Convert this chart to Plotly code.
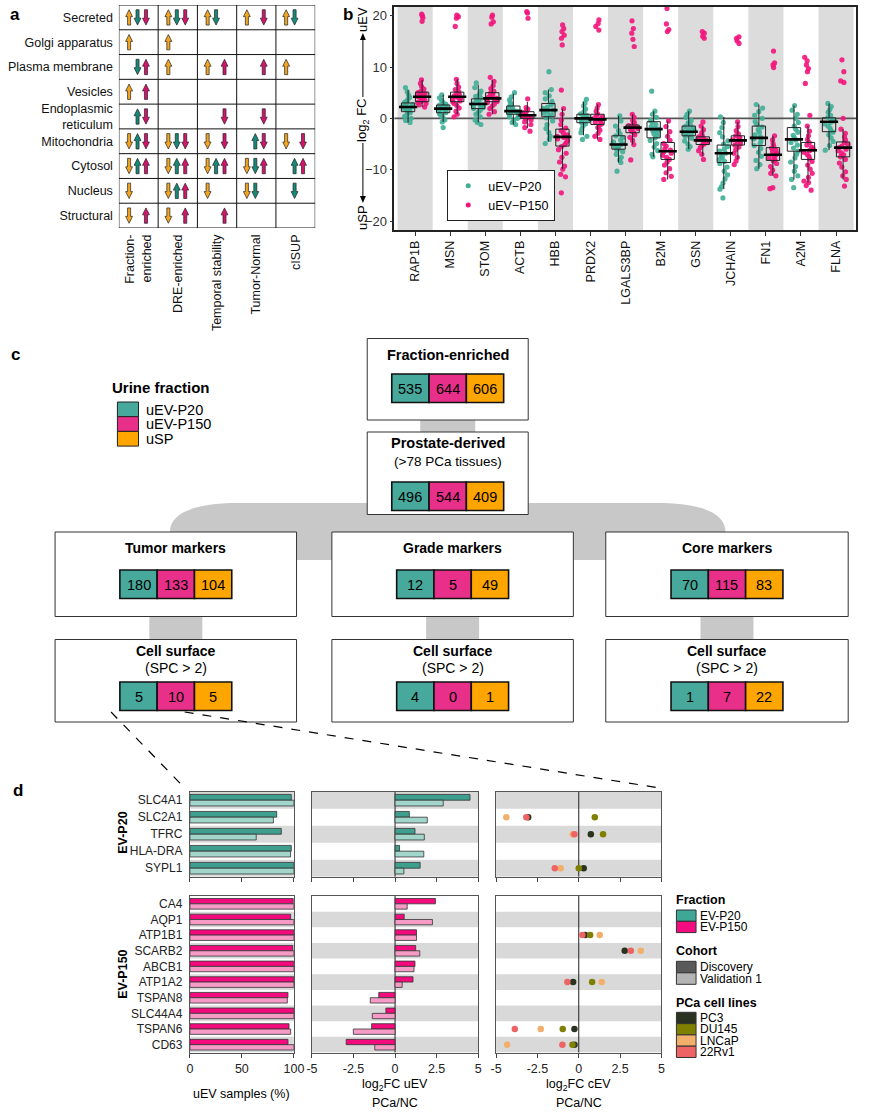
import plotly.graph_objects as go

W, H = 869, 1114
FONT = "Liberation Sans, Arial, sans-serif"
NARROW = "Liberation Sans Narrow, Liberation Sans, Arial, sans-serif"


def X(p):
    return p / W


def Y(p):
    return 1 - p / H


# ---------------- colours ----------------
TEAL_C, PINK_C, ORANGE_C = "#46A99B", "#E8308A", "#FFA500"
ARROW_COLS = ["#F2A520", "#168A78", "#D3146C"]  # uSP, uEV-P20, uEV-P150
TEAL_PT, PINK_PT = "#3FAE97", "#F2147C"
P20_DARK, P20_LIGHT = "#3E9F8E", "#A2D6CB"
P150_DARK, P150_LIGHT = "#F30A7C", "#F59BC6"
CELL_COLS = {"PC3": "#29331F", "DU145": "#7F8000", "LNCaP": "#F2AE6B", "22Rv1": "#EE6464"}

# ================= panel a data =================
loc_rows = ["Secreted", "Golgi apparatus", "Plasma membrane", "Vesicles",
            "Endoplasmic<br>reticulum", "Mitochondria", "Cytosol", "Nucleus", "Structural"]
loc_cols = ["Fraction-<br>enriched", "DRE-enriched", "Temporal stability", "Tumor-Normal", "cISUP"]
# 1 = up, -1 = down, 0 = none ; rows x columns
arrows_usp = [[1, 1, 1, 1, 1], [1, 1, 0, 0, 0], [0, 1, 1, 0, 1], [1, 0, 0, 0, 0], [0, 0, 0, 0, 0],
              [-1, -1, -1, 0, -1], [-1, -1, -1, -1, 0], [-1, -1, -1, -1, 0], [-1, -1, 0, 0, 0]]
arrows_p20 = [[-1, -1, -1, 0, -1], [0, 0, 0, 0, 0], [-1, 0, 0, 0, 0], [0, 0, 0, 0, 0], [1, 0, 0, 0, 0],
              [1, -1, 0, 1, 0], [1, 1, 1, -1, 1], [0, 1, 0, -1, -1], [0, 0, 0, 0, 0]]
arrows_p150 = [[-1, -1, 0, -1, 0], [0, 0, 0, 0, 0], [1, 0, 1, 1, 0], [1, 0, 0, 0, 0], [-1, 0, -1, -1, 0],
               [-1, -1, -1, -1, -1], [1, 1, 1, 1, 1], [0, 1, 0, 0, 0], [1, 1, 1, 0, 0]]

# ================= panel b data =================
genes_b = ["RAP1B", "MSN", "STOM", "ACTB", "HBB", "PRDX2", "LGALS3BP", "B2M", "GSN", "JCHAIN", "FN1", "A2M", "FLNA"]
p20_pts = [
    [6.0, 5.2, 4.6, 4.1, 3.7, 3.4, 3.1, 2.9, 2.7, 2.5, 2.3, 2.2, 2.1, 2.0, 1.9, 1.7, 1.5, 1.3, 1.1, 0.8, 0.4, 0.0, -0.4, -0.8],
    [4.6, 4.0, 3.5, 3.1, 2.8, 2.6, 2.4, 2.2, 2.0, 1.9, 1.8, 1.7, 1.5, 1.3, 1.1, 0.9, 0.6, 0.2, -0.3, -0.7, -1.8],
    [6.9, 6.0, 5.3, 4.7, 4.3, 3.9, 3.6, 3.3, 3.0, 2.9, 2.7, 2.5, 2.3, 2.1, 1.9, 1.6, 1.2, 0.8, 0.3, -0.3, -0.8, -1.2],
    [5.0, 4.2, 3.6, 3.1, 2.7, 2.4, 2.1, 1.8, 1.6, 1.4, 1.3, 1.1, 0.9, 0.8, 0.6, 0.3, 0.0, -0.4, -0.8, -1.2],
    [9.1, 5.6, 5.0, 4.4, 3.8, 3.3, 2.9, 2.6, 2.2, 1.9, 1.6, 1.3, 1.0, 0.7, 0.4, 0.1, -0.5, -1.2, -2.0, -2.8, -3.5, -4.1, -4.9],
    [3.7, 3.0, 2.4, 1.8, 1.3, 0.9, 0.6, 0.3, 0.1, 0.0, -0.2, -0.4, -0.6, -0.8, -1.1, -1.5, -2.1, -2.8, -3.5, -4.1],
    [0.5, -0.5, -1.5, -2.4, -3.0, -3.4, -3.8, -4.2, -4.6, -4.9, -5.1, -5.3, -5.6, -5.9, -6.1, -6.5, -7.0, -7.6, -8.1, -8.6, -10.3],
    [5.3, 1.4, 0.8, 0.2, -0.4, -0.8, -1.2, -1.6, -1.9, -2.1, -2.4, -2.7, -3.0, -3.4, -3.8, -4.3, -4.9, -5.6, -6.3, -7.0, -7.5],
    [1.4, 0.8, 0.2, -0.4, -0.9, -1.3, -1.6, -1.9, -2.2, -2.4, -2.6, -2.8, -3.0, -3.2, -3.5, -3.9, -4.4, -5.0, -5.5, -6.0],
    [0.3, -0.8, -1.8, -2.8, -3.6, -4.4, -5.0, -5.5, -6.0, -6.4, -6.8, -7.2, -7.6, -8.0, -8.4, -8.8, -9.5, -10.3, -11.0, -11.8, -12.6, -13.3, -13.8, -15.5],
    [2.7, 2.0, 1.3, 0.6, 0.0, -0.6, -1.2, -1.7, -2.2, -2.7, -3.2, -3.6, -4.0, -4.4, -4.9, -5.3, -5.9, -6.6, -7.4, -8.2, -9.0, -9.8],
    [2.5, 1.6, 0.8, 0.0, -0.8, -1.5, -2.1, -2.7, -3.3, -3.8, -4.2, -4.7, -5.2, -5.8, -6.4, -7.0, -7.7, -8.5, -9.4, -10.3, -11.2, -11.9, -13.5],
    [2.9, 2.3, 1.7, 1.2, 0.6, 0.2, -0.2, -0.5, -0.8, -1.1, -1.5, -1.9, -2.3, -2.7, -3.2, -3.8, -4.5, -5.3, -6.2],
]
p150_pts = [
    [7.5, 6.8, 6.2, 5.7, 5.3, 5.0, 4.8, 4.6, 4.4, 4.2, 4.1, 3.9, 3.7, 3.5, 3.3, 3.1, 2.9, 2.6, 2.2, 18.9, 19.6, 20.0, 20.3],
    [7.6, 6.8, 6.1, 5.6, 5.2, 4.9, 4.6, 4.4, 4.2, 4.0, 3.8, 3.6, 3.4, 3.2, 2.9, 2.5, 2.0, 1.4, 0.8, 0.3, 17.9, 19.5, 19.8, 20.1],
    [8.0, 7.2, 6.4, 5.8, 5.3, 4.9, 4.6, 4.3, 4.1, 3.9, 3.7, 3.5, 3.3, 3.1, 2.8, 2.4, 1.9, 1.3, 0.8, 18.4, 18.8, 19.7, 20.1],
    [3.8, 2.1, 1.8, 1.5, 1.3, 1.1, 0.9, 0.8, 0.6, 0.5, 0.4, 0.2, 0.1, 0.0, -0.3, -0.7, -1.2, -1.8, -2.5, 19.5, 20.5, 20.8],
    [5.5, 1.9, 0.8, -0.3, -1.2, -1.9, -2.4, -2.8, -3.2, -3.5, -3.7, -4.0, -4.3, -4.7, -5.1, -5.5, -6.1, -6.8, -7.6, -8.5, -9.3, -9.9,
     -10.9, -11.4, -14.5, 14.3, 15.6, 16.2, 16.9, 17.5, 18.2],
    [2.7, 2.0, 1.4, 0.9, 0.6, 0.3, 0.1, -0.1, -0.3, -0.5, -0.8, -1.1, -1.4, -1.8, -2.3, -2.9, -3.5, -4.1, 17.2, 17.9, 18.5, 19.2],
    [0.8, 0.2, -0.4, -0.8, -1.1, -1.4, -1.6, -1.8, -2.0, -2.2, -2.5, -2.8, -3.2, -3.7, -4.3, -5.1, -8.1, 14.0, 15.4, 16.6, 17.5, 19.0],
    [-0.5, -1.6, -2.6, -3.5, -4.3, -4.9, -5.4, -5.9, -6.2, -6.5, -6.8, -7.2, -7.6, -8.0, -8.5, -9.1, -9.8, -10.6, -11.3, -11.9,
     16.9, 17.3, 18.4, 21.4],
    [-0.7, -1.5, -2.2, -2.8, -3.3, -3.6, -3.9, -4.1, -4.3, -4.5, -4.7, -5.0, -5.3, -5.7, -6.3, -7.0, -8.0, 15.6, 16.0, 16.6, 16.9],
    [-0.7, -1.6, -2.4, -3.0, -3.4, -3.7, -4.0, -4.2, -4.4, -4.6, -4.9, -5.2, -5.6, -6.1, -6.8, -7.6, -8.3, -9.0, 14.6, 15.1, 15.6, 15.9],
    [-3.4, -4.2, -4.9, -5.4, -5.8, -6.2, -6.5, -6.8, -7.1, -7.4, -7.7, -8.0, -8.3, -8.8, -9.4, -10.1, -10.7, -11.2, -13.5, -13.7,
     9.9, 10.4, 10.8, 13.1],
    [0.6, -1.5, -2.5, -3.4, -4.1, -4.7, -5.2, -5.6, -6.0, -6.3, -6.6, -7.0, -7.4, -7.9, -8.4, -9.1, -9.9, -10.7, -11.5, -12.2,
     -12.5, -13.1, -14.0, 6.8, 9.1, 9.7, 10.4, 11.2, 11.9],
    [0.0, -2.1, -2.9, -3.6, -4.2, -4.7, -5.1, -5.4, -5.7, -6.0, -6.3, -6.7, -7.1, -7.5, -8.0, -8.7, -9.5, -10.4, -11.2, -11.9,
     -13.2, 7.0, 7.3, 9.1, 11.4],
]
p20_q1 = [1.3, 1.1, 1.9, 0.8, 0.3, -0.85, -6.0, -3.8, -3.4, -8.6, -5.3, -6.4, -2.6]
p20_med = [2.2, 1.9, 2.8, 1.4, 1.6, 0.0, -5.1, -2.1, -2.6, -6.8, -3.8, -4.1, -0.65]
p20_q3 = [3.0, 2.6, 3.8, 2.4, 2.9, 0.8, -3.4, -0.65, -1.5, -5.2, -1.5, -1.8, 0.1]
p20_lo = [-0.8, -0.7, -0.8, -1.2, -4.5, -3.3, -8.6, -7.5, -6.0, -13.8, -9.8, -11.9, -6.2]
p20_hi = [5.5, 4.6, 6.5, 4.8, 5.6, 3.2, 0.5, 1.4, 1.4, 0.3, 2.7, 2.5, 2.9]
p150_q1 = [3.25, 3.25, 3.25, 0.0, -5.4, -1.2, -2.8, -8.0, -5.1, -5.2, -8.2, -8.0, -7.5]
p150_med = [4.2, 4.2, 3.9, 0.6, -3.6, -0.2, -1.8, -6.4, -4.3, -4.3, -7.1, -6.2, -5.7]
p150_q3 = [5.1, 5.1, 5.0, 1.3, -2.1, 0.8, -1.3, -4.7, -3.6, -3.4, -5.7, -4.7, -4.6]
p150_lo = [2.2, 0.8, 0.8, -1.9, -9.9, -4.1, -5.1, -11.9, -7.3, -8.0, -11.2, -12.5, -11.9]
p150_hi = [7.5, 7.6, 7.5, 3.2, 1.9, 2.7, 0.8, -0.5, -1.5, -0.7, -3.4, -1.5, -2.1]

# ================= panel c data =================
fraction_names = ["uEV-P20", "uEV-P150", "uSP"]
fe_counts = [535, 644, 606]
prostate_counts = [496, 544, 409]
tumor_counts = [180, 133, 104]
grade_counts = [12, 5, 49]
core_counts = [70, 115, 83]
tumor_cs_counts = [5, 10, 5]
grade_cs_counts = [4, 0, 1]
core_cs_counts = [1, 7, 22]

# ================= panel d data =================
genes_p20 = ["SLC4A1", "SLC2A1", "TFRC", "HLA-DRA", "SYPL1"]
genes_p150 = ["CA4", "AQP1", "ATP1B1", "SCARB2", "ABCB1", "ATP1A2", "TSPAN8", "SLC44A4", "TSPAN6", "CD63"]
p20_pct_disc = [97.5, 83.5, 87.9, 97.5, 100]
p20_pct_val = [100, 80.3, 63.8, 96.8, 100]
p150_pct_disc = [99.4, 96.9, 100, 99, 100, 100, 94.3, 100, 95.3, 94.3]
p150_pct_val = [100, 100, 100, 100, 100, 100, 93.7, 100, 96.9, 100]
p20_fc_disc = [4.51, 0.86, 1.2, 0.27, 1.51]
p20_fc_val = [2.9, 1.94, 1.76, 1.73, 0.53]
p150_fc_disc = [2.43, 0.55, 1.29, 1.24, 1.2, 1.08, -0.98, -0.55, -1.41, -2.94]
p150_fc_val = [0.73, 2.25, 1.29, 1.49, 1.14, 0.43, -1.49, -1.37, -2.51, -1.22]
cev_p20 = {
    "PC3": [None, -3.06, 0.73, None, 0.3],
    "DU145": [None, 0.97, 1.47, None, 0.0],
    "LNCaP": [None, -4.38, -0.36, None, -1.09],
    "22Rv1": [None, -3.17, -0.26, None, -1.45],
}
cev_p150 = {
    "PC3": [None, None, 0.38, 2.78, None, -0.34, None, None, -0.26, -0.26],
    "DU145": [None, None, 0.69, None, None, 0.81, None, None, -0.97, -0.38],
    "LNCaP": [None, None, 1.27, 3.75, None, 1.39, None, None, -2.3, -4.33],
    "22Rv1": [None, None, 0.22, 3.15, None, -0.69, None, None, -3.87, -0.99],
}
fc_ticks = [-5, -2.5, 0, 2.5, 5]
fc_ticktext = ["-5", "-2.5", "0", "2.5", "5"]
pct_ticks = [0, 50, 100]

shapes, annotations, traces = [], [], []


def text(x, y, s, size=12.5, bold=False, anchor="center", family=FONT, angle=0, color="black"):
    if bold:
        s = f"<b>{s}</b>"
    annotations.append(dict(x=X(x), y=Y(y), xref="paper", yref="paper", text=s, showarrow=False,
                            xanchor=anchor, yanchor="middle", textangle=angle, borderpad=0,
                            font=dict(size=size, family=family, color=color)))


def rect(x0, y0, x1, y1, fill, line="black", lw=1.0):
    shapes.append(dict(type="rect", xref="paper", yref="paper", x0=X(x0), x1=X(x1), y0=Y(y1), y1=Y(y0),
                       fillcolor=fill, line=dict(color=line, width=lw)))


def vline_arrow(x, y_tail, y_tip):
    d = 1 if y_tip > y_tail else -1
    shapes.append(dict(type="line", xref="paper", yref="paper", x0=X(x), x1=X(x), y0=Y(y_tail),
                       y1=Y(y_tip - d * 4), line=dict(color="black", width=1)))
    shapes.append(dict(type="path", xref="paper", yref="paper", fillcolor="black", line=dict(width=0),
                       path=f"M {X(x)},{Y(y_tip)} L {X(x - 3)},{Y(y_tip - d * 7)} L {X(x + 3)},{Y(y_tip - d * 7)} Z"))


# ---------------- panel labels ----------------
text(9, 14, "a", size=17, bold=True)
text(348, 14, "b", size=17, bold=True)
text(10, 354, "c", size=17, bold=True)
text(12, 790, "d", size=17, bold=True)

# ================= panel a =================
traces.append(go.Scatter(x=[0.5], y=[0.5], xaxis="x", yaxis="y", mode="markers",
                         marker=dict(opacity=0), showlegend=False, hoverinfo="skip"))
for k in range(len(loc_cols) + 1):
    shapes.append(dict(type="line", xref="x", yref="y", x0=k, x1=k, y0=0, y1=len(loc_rows),
                       line=dict(color="#111", width=1)))
for r in range(len(loc_rows) + 1):
    shapes.append(dict(type="line", xref="x", yref="y", x0=0, x1=len(loc_cols), y0=r, y1=r,
                       line=dict(color="#111", width=1)))

ARROW_X = [0.26, 0.475, 0.69]
AL, AHW, ASW, AHH = 0.62, 0.175, 0.078, 0.28


def arrow_path(xc, yc, d):
    tip = yc - d * AL / 2
    base = yc + d * AL / 2
    neck = tip + d * AHH
    pts = [(xc, tip), (xc + AHW / 2, neck), (xc + ASW / 2, neck), (xc + ASW / 2, base),
           (xc - ASW / 2, base), (xc - ASW / 2, neck), (xc - AHW / 2, neck)]
    return "M " + " L ".join(f"{a:.4f},{b:.4f}" for a, b in pts) + " Z"


for k, grid in enumerate([arrows_usp, arrows_p20, arrows_p150]):
    for r, row in enumerate(grid):
        for c, d in enumerate(row):
            if d:
                shapes.append(dict(type="path", xref="x", yref="y", path=arrow_path(c + ARROW_X[k], r + 0.5, d),
                                   fillcolor=ARROW_COLS[k], line=dict(color="#222", width=0.7)))

# ================= panel b =================
nb = len(genes_b)
pos20 = [i - 0.2 for i in range(nb)]
pos150 = [i + 0.2 for i in range(nb)]
for i in range(0, nb, 2):
    shapes.append(dict(type="rect", xref="x2", yref="y2 domain", x0=i - 0.5, x1=i + 0.5, y0=0, y1=1,
                       fillcolor="#DCDCDC", line=dict(width=0), layer="below"))
shapes.append(dict(type="line", xref="x2 domain", yref="y2", x0=0, x1=1, y0=0, y1=0,
                   line=dict(color="#555", width=1.6), layer="below"))

for pos, pts, col in [(pos20, p20_pts, TEAL_PT), (pos150, p150_pts, PINK_PT)]:
    xs, ys = [], []
    for p, vals in zip(pos, pts):
        xs += [p] * len(vals)
        ys += vals
    traces.append(go.Box(x=xs, y=ys, xaxis="x2", yaxis="y2", boxpoints="all", jitter=0.85, pointpos=0,
                         width=0.38, fillcolor="rgba(0,0,0,0)", line=dict(width=0, color="rgba(0,0,0,0)"),
                         marker=dict(color=col, size=5.2, opacity=0.9), showlegend=False, hoveron="points"))
for pos, q1, med, q3, lo, hi in [(pos20, p20_q1, p20_med, p20_q3, p20_lo, p20_hi),
                                (pos150, p150_q1, p150_med, p150_q3, p150_lo, p150_hi)]:
    traces.append(go.Box(x=pos, q1=q1, median=med, q3=q3, lowerfence=lo, upperfence=hi, xaxis="x2", yaxis="y2",
                         width=0.38, whiskerwidth=0, boxpoints=False, fillcolor="rgba(0,0,0,0)",
                         line=dict(color="#222", width=1), showlegend=False))
    traces.append(go.Scatter(x=pos, y=med, xaxis="x2", yaxis="y2", mode="markers", showlegend=False,
                             marker=dict(symbol="line-ew", size=13, line=dict(width=2.6, color="black")),
                             hoverinfo="skip"))
traces.append(go.Scatter(x=[None], y=[None], xaxis="x2", yaxis="y2", mode="markers", name="uEV\u2212P20",
                         marker=dict(color=TEAL_PT, size=5)))
traces.append(go.Scatter(x=[None], y=[None], xaxis="x2", yaxis="y2", mode="markers", name="uEV\u2212P150",
                         marker=dict(color=PINK_PT, size=5)))

# y-axis title of b
text(363.6, 19, "uEV", angle=-90, size=13)
text(363.6, 120, "log<sub>2</sub> FC", angle=-90, size=13)
text(363.6, 217, "uSP", angle=-90, size=13)
vline_arrow(363.6, 97, 33)
vline_arrow(363.6, 143, 203)

# ================= panel c =================
shapes.append(dict(type="path", xref="paper", yref="paper", fillcolor="#C8C8C8", line=dict(width=0),
                   path=(f"M {X(167)},{Y(560)} L {X(167)},{Y(532)} C {X(167)},{Y(512)} {X(195)},{Y(503)} {X(235)},{Y(503)} "
                         f"L {X(665)},{Y(503)} C {X(705)},{Y(503)} {X(733)},{Y(512)} {X(733)},{Y(532)} L {X(733)},{Y(560)} Z")))
rect(422, 418, 478, 434, "#C8C8C8", line="#C8C8C8", lw=0)
for cx in [173, 455, 734.5]:
    rect(cx - 27, 615, cx + 27, 641, "#C8C8C8", line="#C8C8C8", lw=0)

CELL_W, CELL_H = 38, 28.5
CELL_COLS3 = [TEAL_C, PINK_C, ORANGE_C]


def cells(cx, ytop, counts, family=FONT, size=14):
    x0 = cx - 1.5 * CELL_W
    for j, v in enumerate(counts):
        rect(x0 + j * CELL_W, ytop, x0 + (j + 1) * CELL_W, ytop + CELL_H, CELL_COLS3[j], line="#111", lw=1.6)
        text(x0 + (j + 0.5) * CELL_W, ytop + CELL_H / 2 + 0.5, str(v), size=size, family=family)


rect(368, 338.5, 532, 420, "white", line="#333", lw=1)
text(450, 354.5, "Fraction-enriched", size=14.5, bold=True)
cells(450, 374, fe_counts, size=14.5)
rect(368, 432, 532, 514.5, "white", line="#333", lw=1)
text(450, 443, "Prostate-derived", size=14.5, bold=True)
text(450, 461, "(&gt;78 PCa tissues)", size=13.5)
cells(450, 482, prostate_counts, size=14.5)

for (bx0, bx1, title, cnt, cs_cnt) in [(50, 296, "Tumor markers", tumor_counts, tumor_cs_counts),
                                       (332, 578, "Grade markers", grade_counts, grade_cs_counts),
                                       (611, 858, "Core markers", core_counts, core_cs_counts)]:
    cx = (bx0 + bx1) / 2
    rect(bx0, 532, bx1, 616.5, "white", line="#333", lw=1)
    text(cx, 548, title, size=14, bold=True, family=NARROW)
    cells(cx, 570, cnt, family=NARROW, size=14.5)
    rect(bx0, 639.5, bx1, 722, "white", line="#333", lw=1)
    text(cx, 650.5, "Cell surface", size=14, bold=True, family=NARROW)
    text(cx, 668, "(SPC &gt; 2)", size=14, family=NARROW)
    cells(cx, 682, cs_cnt, family=NARROW, size=14.5)

# Urine fraction legend
text(157.5, 387, "Urine fraction", size=15, bold=True)
for j, name in enumerate(fraction_names):
    rect(113.5, 402 + j * 14.7, 135, 402 + (j + 1) * 14.7, CELL_COLS3[j], line="#222", lw=1)
    text(142, 409.5 + j * 14.7, name, size=14.5, anchor="left")

# dashed zoom lines
shapes.append(dict(type="line", xref="paper", yref="paper", x0=X(107), y0=Y(712), x1=X(183), y1=Y(789),
                   line=dict(color="black", width=1.2, dash="dash")))
shapes.append(dict(type="line", xref="paper", yref="paper", x0=X(182), y0=Y(712), x1=X(666), y1=Y(788),
                   line=dict(color="black", width=1.2, dash="dash")))

# ================= panel d =================
d_x = {"left": (187.3, 293.3), "mid": (311.7, 481.0), "right": (499.3, 667.7)}
d_y = {"up": (791.7, 876.7), "low": (896.0, 1052.5)}
axis_ids = {("left", "up"): 3, ("left", "low"): 4, ("mid", "up"): 5, ("mid", "low"): 6,
            ("right", "up"): 7, ("right", "low"): 8}
block_info = {
    "up": dict(genes=genes_p20, gray=[0, 2, 4], dark=P20_DARK, light=P20_LIGHT,
               pct=(p20_pct_disc, p20_pct_val), fc=(p20_fc_disc, p20_fc_val), cev=cev_p20),
    "low": dict(genes=genes_p150, gray=[1, 3, 5, 7, 9], dark=P150_DARK, light=P150_LIGHT,
                pct=(p150_pct_disc, p150_pct_val), fc=(p150_fc_disc, p150_fc_val), cev=cev_p150),
}
layout_axes = {}
for (col, blk), n in axis_ids.items():
    info = block_info[blk]
    ng = len(info["genes"])
    xa, ya = f"x{n}", f"y{n}"
    idx = list(range(ng))
    for r in info["gray"]:
        shapes.append(dict(type="rect", xref=f"{xa} domain", yref=ya, x0=0, x1=1, y0=r - 0.5, y1=r + 0.5,
                           fillcolor="#D9D9D9", line=dict(width=0), layer="below"))
    if col in ("mid", "right"):
        shapes.append(dict(type="line", xref=xa, yref=f"{ya} domain", x0=0, x1=0, y0=0, y1=1,
                           line=dict(color="#222", width=1), layer="below"))
    if col in ("left", "mid"):
        vals = info["pct"] if col == "left" else info["fc"]
        for v, colr, off in [(vals[0], info["dark"], -0.34), (vals[1], info["light"], 0.0)]:
            traces.append(go.Bar(x=v, y=idx, orientation="h", xaxis=xa, yaxis=ya, width=0.34, offset=off,
                                 marker=dict(color=colr, line=dict(color="#333", width=0.8)), showlegend=False))
    else:
        for cl in ["PC3", "DU145", "LNCaP", "22Rv1"]:
            traces.append(go.Scatter(x=info["cev"][cl], y=idx, xaxis=xa, yaxis=ya, mode="markers",
                                     marker=dict(color=CELL_COLS[cl], size=6.5), showlegend=False))
    x0p, x1p = d_x[col]
    y0p, y1p = d_y[blk]
    if col == "left":
        xr, tv, tt = [0, 100], pct_ticks, [str(t) for t in pct_ticks]
    else:
        xr, tv, tt = [-5, 5], fc_ticks, fc_ticktext
    layout_axes[f"xaxis{n}"] = dict(domain=[X(x0p), X(x1p)], anchor=ya, range=xr, tickvals=tv, ticktext=tt,
                                    showticklabels=(blk == "low"), ticks="outside", ticklen=4, tickcolor="#444",
                                    showline=True, mirror=True, linecolor="#555", linewidth=1, showgrid=False,
                                    zeroline=False, tickfont=dict(size=12.5, family=FONT, color="#222"),
                                    fixedrange=True)
    layout_axes[f"yaxis{n}"] = dict(domain=[Y(y1p), Y(y0p)], anchor=xa, range=[ng - 0.5, -0.5],
                                    tickvals=idx, ticktext=info["genes"], showticklabels=(col == "left"),
                                    ticks="", showline=True, mirror=True, linecolor="#555", linewidth=1,
                                    showgrid=False, zeroline=False, ticklabelstandoff=4,
                                    tickfont=dict(size=12, family=FONT, color="#222"), fixedrange=True)

text(119, 833, "EV-P20", size=12.5, bold=True, angle=-90)
text(119, 974, "EV-P150", size=12.5, bold=True, angle=-90)
text(240, 1093.5, "uEV samples (%)", size=12.5)
text(396, 1085, "log<sub>2</sub>FC uEV", size=12.5)
text(396, 1103, "PCa/NC", size=12.5)
text(583.5, 1085, "log<sub>2</sub>FC cEV", size=12.5)
text(583.5, 1103, "PCa/NC", size=12.5)

# panel d legend
LEG_F = 12
text(682, 900, "Fraction", size=12.5, bold=True, anchor="left")
for j, (nm, c) in enumerate([("EV-P20", "#3EA795"), ("EV-P150", "#F40B7F")]):
    rect(683, 910 + j * 11.3, 703, 910 + (j + 1) * 11.3, c, line="#333", lw=1)
    text(706, 915.8 + j * 11.3, nm, size=LEG_F, anchor="left")
text(682, 951, "Cohort", size=12.5, bold=True, anchor="left")
for j, (nm, c) in enumerate([("Discovery", "#5A5A5A"), ("Validation 1", "#B4B4B4")]):
    rect(683, 961.3 + j * 11.5, 703, 961.3 + (j + 1) * 11.5, c, line="#333", lw=1)
    text(706, 967.2 + j * 11.5, nm, size=LEG_F, anchor="left")
text(682, 1002.5, "PCa cell lines", size=12.5, bold=True, anchor="left")
for j, nm in enumerate(["PC3", "DU145", "LNCaP", "22Rv1"]):
    rect(683, 1012.3 + j * 11.3, 703, 1012.3 + (j + 1) * 11.3, CELL_COLS[nm], line="#333", lw=1)
    text(706, 1018 + j * 11.3, nm, size=LEG_F, anchor="left")

# ================= layout =================
layout = dict(
    width=W, height=H, margin=dict(l=0, r=0, t=0, b=0), paper_bgcolor="white", plot_bgcolor="white",
    font=dict(family=FONT, size=12.5, color="black"), boxmode="overlay", barmode="overlay",
    showlegend=True,
    legend=dict(x=X(449.5), y=Y(170), xanchor="left", yanchor="top", bordercolor="#222", borderwidth=1,
                bgcolor="white", font=dict(size=12.5, family=FONT), itemsizing="trace", tracegroupgap=0,
                itemwidth=30),
    xaxis=dict(domain=[X(115), X(315)], anchor="y", range=[0, len(loc_cols)],
               tickvals=[c + 0.5 for c in range(len(loc_cols))], ticktext=loc_cols, tickangle=-90,
               ticks="", showline=False, showgrid=False, zeroline=False, ticklabelstandoff=3,
               tickfont=dict(size=12.5, family=FONT, color="#111"), fixedrange=True),
    yaxis=dict(domain=[Y(228), Y(5)], anchor="x", range=[len(loc_rows), 0],
               tickvals=[r + 0.5 for r in range(len(loc_rows))], ticktext=loc_rows,
               ticks="", showline=False, showgrid=False, zeroline=False, ticklabelstandoff=5,
               tickfont=dict(size=12.5, family=FONT, color="#111"), fixedrange=True),
    xaxis2=dict(domain=[X(395.7), X(866)], anchor="y2", range=[-0.59, nb - 0.43],
                tickvals=list(range(nb)), ticktext=genes_b, tickangle=-90, ticks="outside", ticklen=4,
                tickcolor="#333", showline=True, mirror=True, linecolor="#222", linewidth=1.5,
                showgrid=False, zeroline=False, tickfont=dict(size=12.5, family=FONT, color="#111"),
                fixedrange=True),
    yaxis2=dict(domain=[Y(230), Y(6.7)], anchor="x2", range=[-21.75, 21.75], tickvals=[-20, -10, 0, 10, 20],
                ticks="outside", ticklen=3, tickcolor="#333", showline=True, mirror=True, linecolor="#222",
                linewidth=1.5, showgrid=False, zeroline=False,
                tickfont=dict(size=13, family=FONT, color="#333"), fixedrange=True),
    shapes=shapes, annotations=annotations,
)
layout.update(layout_axes)

fig = go.Figure(data=traces, layout=layout)
fig.write_html("out.html", config={"displayModeBar": False},
               post_script="document.body.style.margin='0';document.body.style.overflow='hidden';")
